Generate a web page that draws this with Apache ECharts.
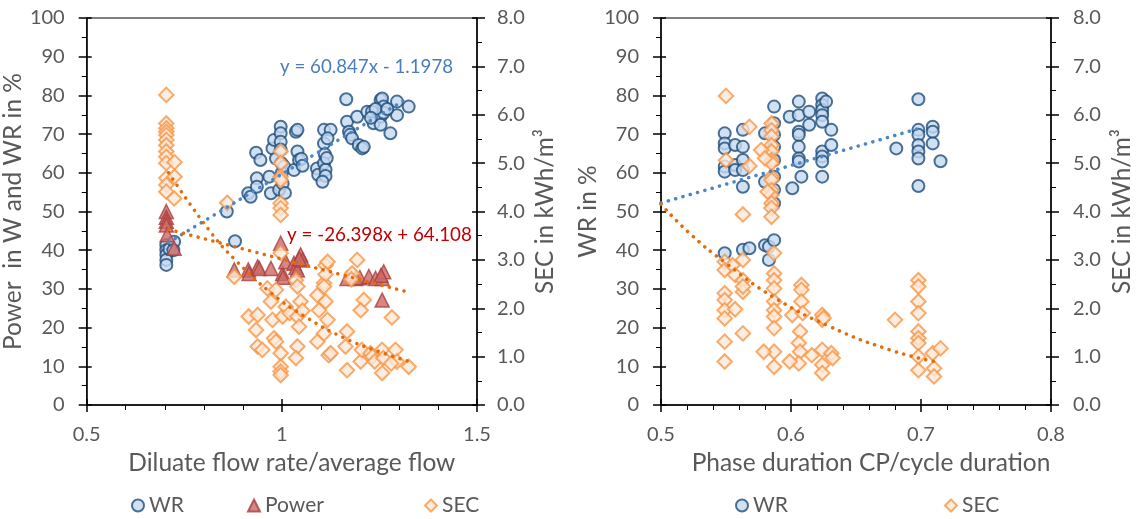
<!DOCTYPE html>
<html>
<head>
<meta charset="utf-8">
<script src="https://cdn.jsdelivr.net/npm/echarts@6/dist/echarts.min.js"></script>
<style>
  html, body { margin: 0; padding: 0; background: #fff; }
  #chart { width: 1136px; height: 519px; }
</style>
</head>
<body>
<div id="chart"></div>
<script>
// ---- Data: left panel, x = diluate flow rate / average flow ----
const flowWR = [
  [0.704,41.3],[0.704,40.0],[0.704,38.8],[0.704,37.5],[0.704,36.2],[0.712,40.3],[0.724,42.2],[0.722,40.0],
  [0.859,50.0],[0.88,42.3],[0.914,54.7],[0.92,53.8],[0.936,58.6],[0.936,56.4],[0.934,65.2],[0.945,63.3],
  [0.968,59.0],[0.972,54.7],[0.976,66.3],[0.98,68.5],[0.985,63.7],[0.993,55.6],[0.997,71.9],[0.997,70.2],
  [0.997,68.0],[0.997,66.0],[0.999,62.5],[1.0,60.0],[1.002,57.2],[1.006,61.6],[1.008,54.8],[1.036,70.6],
  [1.04,71.1],[1.04,65.5],[1.031,60.7],[1.044,63.3],[1.05,63.6],[1.053,61.8],[1.09,61.1],[1.093,59.5],
  [1.108,71.1],[1.125,71.1],[1.108,67.6],[1.11,64.8],[1.108,62.5],[1.112,60.8],[1.112,59.2],[1.104,57.7],
  [1.117,68.9],[1.115,63.8],[1.165,79.0],[1.167,73.2],[1.172,70.6],[1.175,69.8],[1.18,68.9],[1.193,74.5],
  [1.197,67.2],[1.206,66.3],[1.21,66.7],[1.219,75.8],[1.231,75.8],[1.235,72.8],[1.253,74.5],[1.253,78.8],
  [1.257,79.2],[1.253,72.4],[1.261,77.1],[1.278,70.2],[1.295,78.4],[1.295,74.9],[1.325,77.1],[1.261,75.5],
  [1.24,76.5],[1.228,74.2],[1.27,76.5]
];
const flowPower = [
  [0.704,50.0],[0.704,48.5],[0.704,47.5],[0.704,46.5],[0.706,44.0],[0.724,40.5],[0.878,34.9],[0.914,34.9],
  [0.916,34.0],[0.938,35.7],[0.942,35.3],[0.972,35.3],[0.997,41.8],[1.002,34.0],[1.003,33.0],[1.01,37.0],
  [1.031,36.6],[1.036,35.5],[1.04,34.9],[1.048,38.8],[1.053,37.5],[1.045,37.8],[1.167,32.7],[1.189,32.7],
  [1.2,32.9],[1.223,33.2],[1.24,32.7],[1.257,32.7],[1.261,34.4],[1.257,27.1],[1.254,33.5]
];
const flowSEC = [
  [0.704,6.41],[0.704,5.82],[0.704,5.72],[0.704,5.65],[0.704,5.58],[0.704,5.48],[0.704,5.37],[0.704,5.24],
  [0.704,5.13],[0.704,5.0],[0.704,4.69],[0.704,4.55],[0.704,4.41],[0.725,5.02],[0.725,4.72],[0.724,4.27],
  [0.86,4.18],[0.878,2.65],[0.997,5.24],[0.997,5.0],[0.997,4.72],[0.997,4.65],[0.997,4.17],[0.997,4.07],
  [0.997,3.93],[0.997,3.14],[0.915,1.83],[0.938,1.86],[0.934,1.55],[0.938,1.21],[0.95,1.14],[0.963,2.41],
  [0.985,2.38],[0.972,2.14],[0.976,1.76],[0.98,1.38],[0.985,1.31],[0.997,1.07],[0.997,0.79],[0.997,0.69],
  [0.997,0.62],[1.002,1.83],[1.01,2.03],[1.02,1.9],[1.036,2.58],[1.04,2.45],[1.04,1.83],[1.048,2.14],
  [1.044,1.62],[1.04,1.21],[1.036,0.97],[1.053,1.95],[1.091,2.27],[1.095,1.96],[1.091,1.31],[1.108,1.48],
  [1.108,2.52],[1.112,2.89],[1.117,2.96],[1.112,2.7],[1.108,2.45],[1.112,2.14],[1.117,1.76],[1.12,1.03],
  [1.125,1.07],[1.167,1.52],[1.163,1.21],[1.167,0.72],[1.18,2.72],[1.178,2.6],[1.193,3.0],[1.21,2.17],
  [1.202,1.96],[1.202,0.9],[1.205,1.14],[1.227,1.07],[1.232,1.0],[1.238,0.9],[1.257,1.14],[1.257,0.66],
  [1.26,0.97],[1.282,1.81],[1.291,1.14],[1.295,0.9],[1.325,0.79],[1.28,0.86]
];
// Fitted lines printed on the left panel
const flowWRFit = { slope: 60.847, intercept: -1.1978, xStart: 0.71, xEnd: 1.32 };
const flowPowerFit = { slope: -26.398, intercept: 64.108, xStart: 0.71, xEnd: 1.33 };
const flowSECTrend = [[0.71,4.8],[0.815,3.6],[0.883,2.98],[0.972,2.32],[1.057,1.84],[1.159,1.39],[1.261,1.07],[1.33,0.89]];

// ---- Data: right panel, x = phase duration CP / cycle duration ----
const phaseWR = [
  [0.549,70.2],[0.549,67.6],[0.549,66.3],[0.549,61.6],[0.549,60.3],[0.549,39.2],[0.557,67.2],[0.557,62.0],
  [0.557,60.7],[0.563,71.1],[0.563,66.7],[0.563,63.3],[0.563,60.7],[0.563,56.4],[0.563,40.1],[0.568,40.5],
  [0.58,70.2],[0.58,57.7],[0.58,41.3],[0.587,77.1],[0.587,72.8],[0.587,69.8],[0.587,66.7],[0.587,63.3],
  [0.587,59.0],[0.587,55.6],[0.587,52.1],[0.583,40.9],[0.587,42.6],[0.583,37.5],[0.599,74.5],[0.601,56.0],
  [0.606,78.4],[0.606,74.9],[0.606,70.6],[0.606,69.8],[0.606,66.7],[0.606,63.7],[0.606,62.9],[0.608,59.0],
  [0.614,75.8],[0.614,72.4],[0.624,79.2],[0.624,77.5],[0.624,76.2],[0.624,74.9],[0.624,73.2],[0.624,65.5],
  [0.624,64.2],[0.624,62.9],[0.624,59.0],[0.627,78.4],[0.631,71.1],[0.631,67.2],[0.681,66.3],[0.698,79.0],
  [0.698,71.1],[0.698,69.8],[0.698,67.2],[0.698,65.5],[0.698,63.7],[0.698,56.6],[0.709,71.9],[0.709,70.6],
  [0.709,67.6],[0.715,63.0]
];
const phaseSEC = [
  [0.55,6.39],[0.568,5.75],[0.55,5.06],[0.568,4.94],[0.563,3.94],[0.585,5.82],[0.585,5.68],[0.585,5.55],
  [0.585,5.37],[0.585,5.24],[0.585,5.06],[0.585,5.0],[0.585,4.72],[0.585,4.65],[0.585,4.44],[0.585,4.34],
  [0.585,4.17],[0.585,4.07],[0.585,3.89],[0.577,5.27],[0.582,4.41],[0.58,5.1],[0.587,3.14],[0.549,2.96],
  [0.549,2.79],[0.555,2.89],[0.557,2.69],[0.563,3.0],[0.563,2.58],[0.563,2.34],[0.563,2.45],[0.549,2.31],
  [0.549,2.17],[0.549,1.96],[0.549,1.79],[0.557,1.98],[0.549,1.31],[0.549,0.9],[0.563,1.48],[0.587,2.72],
  [0.587,2.58],[0.587,2.41],[0.587,2.14],[0.587,1.96],[0.587,1.83],[0.587,1.59],[0.587,1.1],[0.587,0.79],
  [0.579,1.1],[0.601,1.86],[0.608,2.48],[0.608,2.38],[0.608,2.14],[0.609,1.9],[0.607,1.52],[0.606,1.28],
  [0.607,1.1],[0.606,0.86],[0.599,0.9],[0.616,1.03],[0.624,1.86],[0.624,1.76],[0.625,1.8],[0.624,1.14],
  [0.624,0.83],[0.624,0.66],[0.631,1.07],[0.632,0.97],[0.68,1.76],[0.698,2.58],[0.698,2.45],[0.698,2.14],
  [0.698,1.9],[0.698,1.52],[0.698,1.38],[0.698,1.28],[0.698,1.0],[0.698,0.72],[0.709,1.07],[0.71,0.76],
  [0.71,0.59],[0.715,1.17]
];
const phaseWRTrend = [[0.5,52.2],[0.7,71.6]];
const phaseSECTrend = [[0.5,4.15],[0.522,3.55],[0.55,2.93],[0.586,2.24],[0.63,1.62],[0.676,1.14],[0.71,0.9]];

// Axis titles and legend labels
const flowXTitle = 'Diluate flow rate/average flow';
const phaseXTitle = 'Phase duration CP/cycle duration';
const flowYTitle = 'Power  in W and WR in %';
const phaseYTitle = 'WR in %';
const secTitle = 'SEC in kWh/m\u00B3';
const flowWRFitText = 'y = 60.847x - 1.1978';
const flowPowerFitText = 'y = -26.398x + 64.108';

// ---- Styling ----
const FONT = 'Lato, "Open Sans", sans-serif';
const TEXT = '#595959';
const AXIS = '#000000';
const TITLE_SIZE = 24.5;

function fitLine(f) {
  return [f.xStart, f.xEnd].map(x => [x, f.slope * x + f.intercept]);
}

const wrStyle = { color: '#C5D9F1', borderColor: '#1F4E79', borderWidth: 2 };
const powerStyle = { color: '#CD6966', borderColor: '#A8403D', borderWidth: 1.5 };
const secStyle = { color: '#FDE9D9', borderColor: '#F79646', borderWidth: 2 };

function dotted(color) {
  return { color: color, width: 3.5, type: [0.1, 7.5], cap: 'round' };
}

function mainX(grid, min, max, interval, name, nameGap, shift) {
  return {
    gridIndex: grid, type: 'value', min: min, max: max, interval: interval, position: 'bottom',
    axisLine: { show: true, onZero: false, lineStyle: { color: AXIS, width: 1.5 } },
    axisTick: { show: true, length: 7, lineStyle: { color: AXIS, width: 1.5 } },
    minorTick: { show: true, splitNumber: 5, length: 5, lineStyle: { color: AXIS, width: 1 } },
    splitLine: { show: false }, minorSplitLine: { show: false },
    axisLabel: { margin: 20, fontSize: 20, color: TEXT, fontFamily: FONT },
    name: name, nameLocation: 'middle', nameGap: nameGap,
    nameTextStyle: { fontSize: TITLE_SIZE, color: TEXT, fontFamily: FONT, padding: [0, 0, 0, shift] }
  };
}
function overlayX(grid, min, max, interval) {
  return {
    gridIndex: grid, type: 'value', min: min, max: max, interval: interval, position: 'bottom',
    axisLine: { show: false, onZero: false },
    axisTick: { show: true, inside: true, length: 6, lineStyle: { color: AXIS, width: 1.5 } },
    minorTick: { show: false }, splitLine: { show: false }, axisLabel: { show: false }
  };
}
function mainY(grid, pos, min, max, interval, fmt, name, nameGap, margin) {
  return {
    gridIndex: grid, type: 'value', min: min, max: max, interval: interval, position: pos,
    axisLine: { show: true, onZero: false, lineStyle: { color: AXIS, width: 1.5 } },
    axisTick: { show: true, length: 8, lineStyle: { color: AXIS, width: 1.5 } },
    minorTick: { show: true, splitNumber: 2, length: 5, lineStyle: { color: AXIS, width: 1 } },
    splitLine: { show: false }, minorSplitLine: { show: false },
    axisLabel: { margin: margin, fontSize: 20, color: TEXT, fontFamily: FONT, formatter: fmt },
    name: name, nameLocation: 'middle', nameGap: nameGap, nameRotate: 90,
    nameTextStyle: { fontSize: TITLE_SIZE, color: TEXT, fontFamily: FONT }
  };
}
function overlayY(grid, pos, min, max, interval) {
  return {
    gridIndex: grid, type: 'value', min: min, max: max, interval: interval, position: pos,
    axisLine: { show: false, onZero: false },
    axisTick: { show: true, inside: true, length: 5, lineStyle: { color: AXIS, width: 1.5 } },
    minorTick: { show: false }, splitLine: { show: false }, axisLabel: { show: false }
  };
}
const oneDecimal = v => v.toFixed(1);

const legendBase = {
  top: 495, padding: 0, itemWidth: 12, itemHeight: 12, itemGap: 0,
  textStyle: { fontSize: 21, color: TEXT, fontFamily: FONT },
  selectedMode: false
};

const option = {
  animation: false,
  backgroundColor: '#ffffff',
  grid: [
    { left: 85, top: 18, width: 392, height: 387, show: true, borderColor: AXIS, borderWidth: 1, backgroundColor: 'transparent' },
    { left: 661, top: 18, width: 391, height: 387, show: true, borderColor: AXIS, borderWidth: 1, backgroundColor: 'transparent' }
  ],
  xAxis: [
    mainX(0, 0.5, 1.5, 0.5, flowXTitle, 46, 20),
    overlayX(0, 0.5, 1.5, 0.5),
    mainX(1, 0.5, 0.8, 0.1, phaseXTitle, 46, 30),
    overlayX(1, 0.5, 0.8, 0.1)
  ],
  yAxis: [
    mainY(0, 'left', 0, 100, 10, null, flowYTitle, 44, 22),
    mainY(0, 'right', 0, 8, 1, oneDecimal, secTitle, 56, 20),
    mainY(1, 'left', 0, 100, 10, null, phaseYTitle, 44, 22),
    mainY(1, 'right', 0, 8, 1, oneDecimal, secTitle, 59, 22),
    overlayY(0, 'left', 0, 100, 10),
    overlayY(0, 'right', 0, 8, 1),
    overlayY(1, 'left', 0, 100, 10),
    overlayY(1, 'right', 0, 8, 1)
  ],
  legend: [
    Object.assign({}, legendBase, { left: 131, data: [{ name: 'WR', icon: 'circle' }] }),
    Object.assign({}, legendBase, { left: 247, data: [{ name: 'Power', icon: 'triangle' }] }),
    Object.assign({}, legendBase, { left: 424, data: [{ name: 'SEC', icon: 'diamond' }] }),
    Object.assign({}, legendBase, { left: 735, data: [{ name: 'WR', icon: 'circle' }] }),
    Object.assign({}, legendBase, { left: 944, data: [{ name: 'SEC', icon: 'diamond' }] })
  ],
  graphic: [
    { type: 'text', left: 280, top: 57, style: { text: flowWRFitText, fill: '#4A7EBB', font: '18.7px ' + FONT } },
    { type: 'text', left: 287, top: 225, style: { text: flowPowerFitText, fill: '#C00000', font: '18.8px ' + FONT } }
  ],
  series: [
    { name: 'WR', type: 'scatter', xAxisIndex: 0, yAxisIndex: 0, data: flowWR,
      symbol: 'circle', symbolSize: 12, itemStyle: wrStyle, silent: true },
    { name: 'Power', type: 'scatter', xAxisIndex: 0, yAxisIndex: 0, data: flowPower,
      symbol: 'triangle', symbolSize: 14, itemStyle: powerStyle, silent: true },
    { name: 'SEC', type: 'scatter', xAxisIndex: 0, yAxisIndex: 1, data: flowSEC,
      symbol: 'diamond', symbolSize: 14.5, itemStyle: secStyle, silent: true },
    { name: 'WR fit', type: 'line', xAxisIndex: 0, yAxisIndex: 0, data: fitLine(flowWRFit),
      symbol: 'none', lineStyle: dotted('#4A86C8'), silent: true, z: 5 },
    { name: 'Power fit', type: 'line', xAxisIndex: 0, yAxisIndex: 0, data: fitLine(flowPowerFit),
      symbol: 'none', lineStyle: dotted('#E46C0A'), silent: true, z: 5 },
    { name: 'SEC fit', type: 'line', xAxisIndex: 0, yAxisIndex: 1, data: flowSECTrend, smooth: true,
      symbol: 'none', lineStyle: dotted('#E46C0A'), silent: true, z: 5 },

    { name: 'WR', type: 'scatter', xAxisIndex: 2, yAxisIndex: 2, data: phaseWR,
      symbol: 'circle', symbolSize: 12, itemStyle: wrStyle, silent: true },
    { name: 'SEC', type: 'scatter', xAxisIndex: 2, yAxisIndex: 3, data: phaseSEC,
      symbol: 'diamond', symbolSize: 14.5, itemStyle: secStyle, silent: true },
    { name: 'WR fit 2', type: 'line', xAxisIndex: 2, yAxisIndex: 2, data: phaseWRTrend,
      symbol: 'none', lineStyle: dotted('#4A86C8'), silent: true, z: 5 },
    { name: 'SEC fit 2', type: 'line', xAxisIndex: 2, yAxisIndex: 3, data: phaseSECTrend, smooth: true,
      symbol: 'none', lineStyle: dotted('#E46C0A'), silent: true, z: 5 }
  ]
};

const chart = echarts.init(document.getElementById('chart'), null, { renderer: 'canvas' });
chart.setOption(option);
</script>
</body>
</html>
